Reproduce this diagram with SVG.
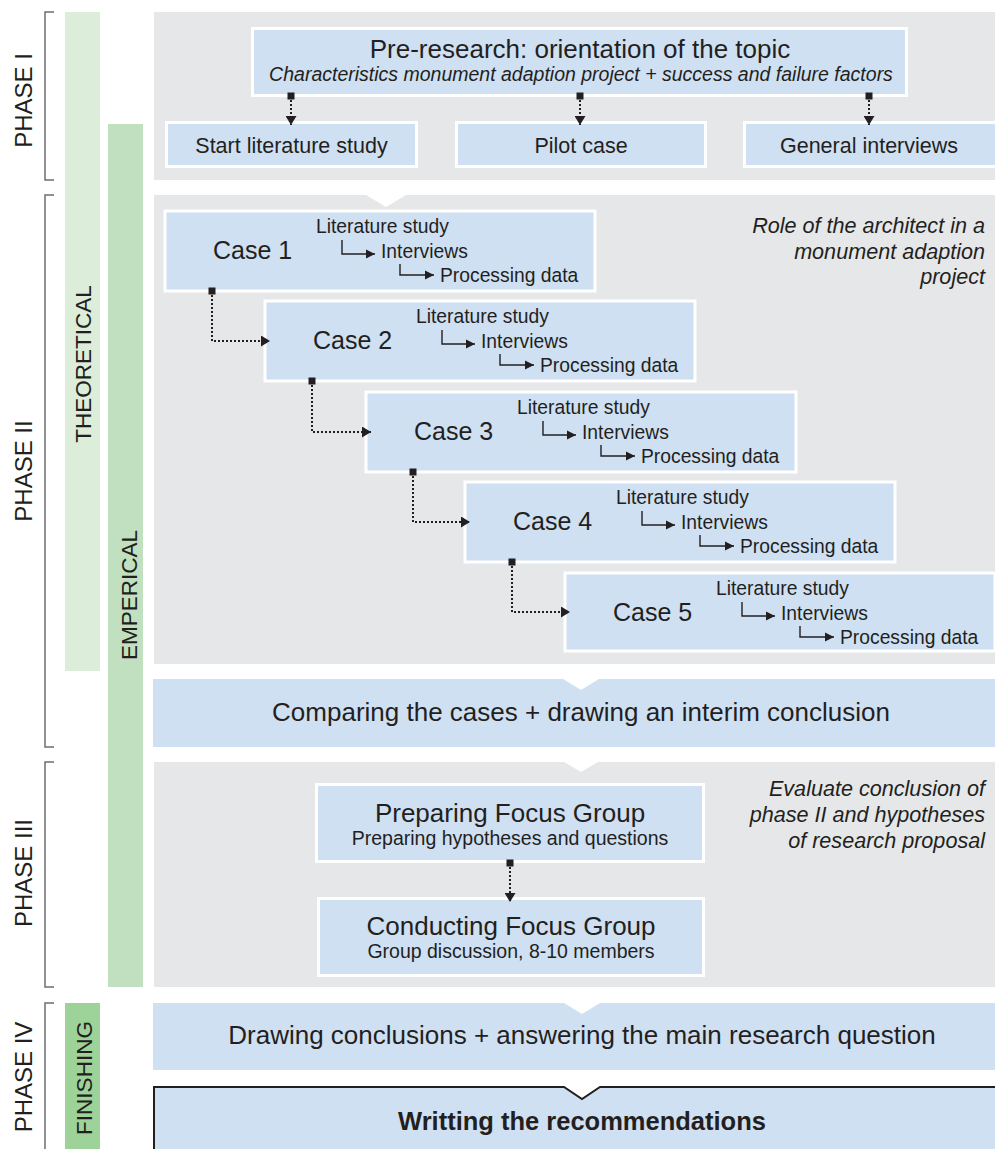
<svg xmlns="http://www.w3.org/2000/svg" width="995" height="1149" viewBox="0 0 995 1149">
<style>
  text { font-family: "Liberation Sans", Arial, sans-serif; fill: #231f20; }
  .panel { fill: #e6e7e8; }
  .box { fill: #cfe0f3; stroke: #ffffff; stroke-width: 3; }
  .band { fill: #cfe0f3; }
  .notch { fill: #ffffff; }
  .bracket { fill: none; stroke: #6d6e70; stroke-width: 1.5; }
  .t26 { font-size: 26px; }
  .t25 { font-size: 25px; }
  .t21 { font-size: 21.5px; }
  .t19 { font-size: 19.3px; }
  .t195 { font-size: 19.5px; }
  .it { font-size: 21.6px; font-style: italic; }
  .mid { text-anchor: middle; }
  .end { text-anchor: end; }
  .vlab { font-size: 24px; text-anchor: middle; }
  .vbar { font-size: 22.5px; text-anchor: middle; }
  .dot { fill: none; stroke: #231f20; stroke-width: 2; stroke-dasharray: 2 2; marker-start: url(#sq); marker-end: url(#ah); }
  .elb { fill: none; stroke: #231f20; stroke-width: 1.4; marker-end: url(#ahs); }
</style>
<defs>
  <marker id="sq" markerUnits="userSpaceOnUse" markerWidth="8" markerHeight="8" refX="4" refY="4" orient="auto">
    <rect x="0.5" y="0.5" width="7" height="7" fill="#231f20"/>
  </marker>
  <marker id="ah" markerUnits="userSpaceOnUse" markerWidth="10" markerHeight="11" refX="9" refY="5.5" orient="auto">
    <path d="M0,0 L9,5.5 L0,11 z" fill="#231f20"/>
  </marker>
  <marker id="ahs" markerUnits="userSpaceOnUse" markerWidth="10" markerHeight="10" refX="9" refY="5" orient="auto">
    <path d="M0,0.5 L9,5 L0,9.5 z" fill="#231f20"/>
  </marker>
</defs>

<rect width="995" height="1149" fill="#ffffff"/>

<!-- brackets and side bars -->
<g id="phase-brackets">
  <path class="bracket" d="M54,12 H45 V180 H54"/>
  <path class="bracket" d="M54,195 H45 V747 H54"/>
  <path class="bracket" d="M54,762 H45 V987 H54"/>
  <path class="bracket" d="M54,1003 H45 V1152"/>
  <text class="vlab" transform="translate(32,100.5) rotate(-90)">PHASE I</text>
  <text class="vlab" transform="translate(32,471) rotate(-90)">PHASE II</text>
  <text class="vlab" transform="translate(32,873) rotate(-90)">PHASE III</text>
  <text class="vlab" transform="translate(32,1077) rotate(-90)">PHASE IV</text>
</g>
<g id="bar-theoretical">
  <rect x="65" y="12" width="35" height="659" fill="#dcedda"/>
  <text class="vbar" transform="translate(90.5,364) rotate(-90)">THEORETICAL</text>
</g>
<g id="bar-emperical">
  <rect x="108" y="124" width="35" height="863" fill="#c1e0bf"/>
  <text class="vbar" transform="translate(136.5,595) rotate(-90)">EMPERICAL</text>
</g>
<g id="bar-finishing">
  <rect x="65" y="1003" width="35" height="146" fill="#9dd399"/>
  <text class="vbar" transform="translate(92,1078) rotate(-90)">FINISHING</text>
</g>

<!-- panels -->
<g id="panel-phase1">
  <rect class="panel" x="154" y="12" width="841" height="168"/>
</g>
<g id="panel-phase2">
  <rect class="panel" x="154" y="195" width="841" height="469"/>
  <path class="notch" d="M366,195 L406,195 L386,207 z"/>
  <text class="it end" x="985" y="233">Role of the architect in a</text>
  <text class="it end" x="985" y="259">monument adaption</text>
  <text class="it end" x="985" y="284">project</text>
</g>
<g id="panel-phase3">
  <rect class="panel" x="154" y="762" width="841" height="225"/>
  <path class="notch" d="M564,762 L598,762 L581,772 z"/>
  <text class="it end" x="985" y="796">Evaluate conclusion of</text>
  <text class="it end" x="985" y="822">phase II and hypotheses</text>
  <text class="it end" x="985" y="848">of research proposal</text>
</g>

<!-- phase I nodes -->
<g id="pre-research">
  <rect class="box" x="252.5" y="28.5" width="654" height="67"/>
  <text class="t26 mid" x="580" y="58">Pre-research: orientation of the topic</text>
  <text class="t195 mid" x="581" y="81" font-style="italic">Characteristics monument adaption project + success and failure factors</text>
</g>
<g id="start-literature">
  <rect class="box" x="166.5" y="122.5" width="250" height="44"/>
  <text class="t21 mid" x="291.5" y="153">Start literature study</text>
</g>
<g id="pilot-case">
  <rect class="box" x="456.5" y="122.5" width="249" height="44"/>
  <text class="t21 mid" x="581" y="153">Pilot case</text>
</g>
<g id="general-interviews">
  <rect class="box" x="744.5" y="122.5" width="252" height="44"/>
  <text class="t21 mid" x="869" y="153">General interviews</text>
</g>

<!-- cases -->
<g id="case1" transform="translate(165,211)">
  <rect class="box" x="0" y="0" width="430" height="80"/>
  <text class="t25" x="48" y="48">Case 1</text>
  <text class="t19" x="151" y="22">Literature study</text>
  <path class="elb" d="M177,29 V43 H210"/>
  <text class="t19" x="216" y="47">Interviews</text>
  <path class="elb" d="M235,53 V64 H269"/>
  <text class="t19" x="275" y="71">Processing data</text>
</g>
<g id="case2" transform="translate(265,301)">
  <rect class="box" x="0" y="0" width="430" height="80"/>
  <text class="t25" x="48" y="48">Case 2</text>
  <text class="t19" x="151" y="22">Literature study</text>
  <path class="elb" d="M177,29 V43 H210"/>
  <text class="t19" x="216" y="47">Interviews</text>
  <path class="elb" d="M235,53 V64 H269"/>
  <text class="t19" x="275" y="71">Processing data</text>
</g>
<g id="case3" transform="translate(366,392)">
  <rect class="box" x="0" y="0" width="430" height="80"/>
  <text class="t25" x="48" y="48">Case 3</text>
  <text class="t19" x="151" y="22">Literature study</text>
  <path class="elb" d="M177,29 V43 H210"/>
  <text class="t19" x="216" y="47">Interviews</text>
  <path class="elb" d="M235,53 V64 H269"/>
  <text class="t19" x="275" y="71">Processing data</text>
</g>
<g id="case4" transform="translate(465,482)">
  <rect class="box" x="0" y="0" width="430" height="80"/>
  <text class="t25" x="48" y="48">Case 4</text>
  <text class="t19" x="151" y="22">Literature study</text>
  <path class="elb" d="M177,29 V43 H210"/>
  <text class="t19" x="216" y="47">Interviews</text>
  <path class="elb" d="M235,53 V64 H269"/>
  <text class="t19" x="275" y="71">Processing data</text>
</g>
<g id="case5" transform="translate(565,573)">
  <rect class="box" x="0" y="0" width="430" height="78"/>
  <text class="t25" x="48" y="48">Case 5</text>
  <text class="t19" x="151" y="22">Literature study</text>
  <path class="elb" d="M177,29 V43 H210"/>
  <text class="t19" x="216" y="47">Interviews</text>
  <path class="elb" d="M235,53 V64 H269"/>
  <text class="t19" x="275" y="71">Processing data</text>
</g>

<!-- comparing -->
<g id="comparing">
  <rect class="band" x="153" y="679" width="842" height="68"/>
  <path class="notch" d="M563,679 L599,679 L581,690 z"/>
  <text class="t26 mid" x="581" y="721">Comparing the cases + drawing an interim conclusion</text>
</g>

<!-- phase III nodes -->
<g id="preparing-focus-group">
  <rect class="box" x="316.5" y="784.5" width="387" height="77"/>
  <text class="t26 mid" x="510" y="822">Preparing Focus Group</text>
  <text class="t195 mid" x="510" y="845">Preparing hypotheses and questions</text>
</g>
<g id="conducting-focus-group">
  <rect class="box" x="318.5" y="898.5" width="385" height="77"/>
  <text class="t26 mid" x="511" y="935">Conducting Focus Group</text>
  <text class="t195 mid" x="511" y="958">Group discussion, 8-10 members</text>
</g>

<!-- phase IV -->
<g id="drawing-conclusions">
  <rect class="band" x="153" y="1003" width="842" height="67"/>
  <path class="notch" d="M564,1003 L600,1003 L582,1014 z"/>
  <text class="t26 mid" x="582" y="1044">Drawing conclusions + answering the main research question</text>
</g>
<g id="writing-recommendations">
  <path d="M154,1152 V1087 H564 L582,1099 L600,1087 H997 V1152 z" fill="#cfe0f3"/>
  <path d="M154,1152 V1087 H564 L582,1099 L600,1087 H997" fill="none" stroke="#231f20" stroke-width="2"/>
  <text class="mid" x="582" y="1130" font-size="25.5" font-weight="bold">Writting the recommendations</text>
</g>

<!-- connectors -->
<g id="connectors">
  <path class="dot" d="M291,96 V125"/>
  <path class="dot" d="M580,96 V125"/>
  <path class="dot" d="M869,96 V125"/>
  <path class="dot" d="M212,291 V341 H270"/>
  <path class="dot" d="M312,381 V432 H371"/>
  <path class="dot" d="M413,472 V522 H470"/>
  <path class="dot" d="M512,562 V612 H570"/>
  <path class="dot" d="M510,863 V902"/>
</g>
</svg>
